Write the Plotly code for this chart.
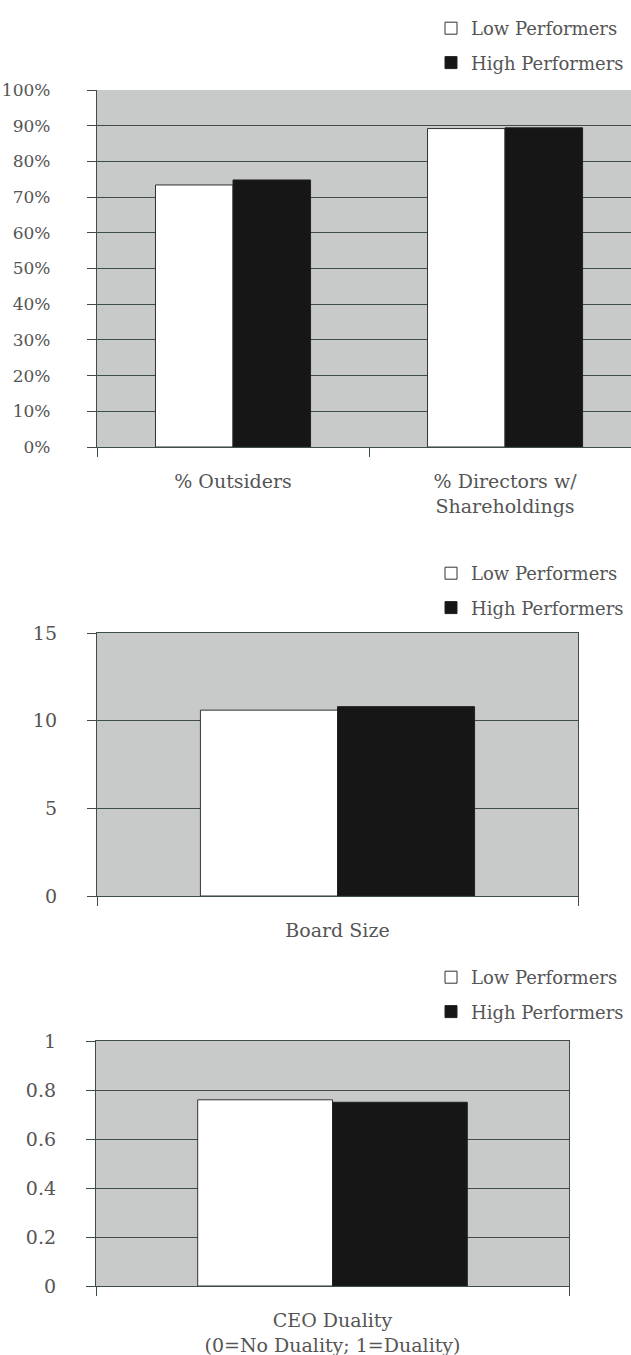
import plotly.graph_objects as go

series_names = ["Low Performers", "High Performers"]

cats1 = ["% Outsiders", "% Directors w/<br>Shareholdings"]
low1 = [73.4, 89.2]
high1 = [74.8, 89.4]
yticks1 = [0, 10, 20, 30, 40, 50, 60, 70, 80, 90, 100]
yticklabels1 = ["0%", "10%", "20%", "30%", "40%", "50%", "60%", "70%", "80%", "90%", "100%"]

cats2 = ["Board Size"]
low2 = [10.6]
high2 = [10.8]
yticks2 = [0, 5, 10, 15]
yticklabels2 = ["0", "5", "10", "15"]

cats3 = ["CEO Duality<br>(0=No Duality; 1=Duality)"]
low3 = [0.76]
high3 = [0.75]
yticks3 = [0, 0.2, 0.4, 0.6, 0.8, 1]
yticklabels3 = ["0", "0.2", "0.4", "0.6", "0.8", "1"]

W, H = 631, 1355
FONT = "DejaVu Serif"
TXT = "#555555"
GRID = "#3f4d47"
BG = "#c8c9c9"
LOWC = "#ffffff"
HIGHC = "#161616"


def px_x(p):
    return p / W


def px_y(p):
    return 1 - p / H


fig = go.Figure()

panels = [
    (cats1, low1, high1, "x", "y", "legend"),
    (cats2, low2, high2, "x2", "y2", "legend2"),
    (cats3, low3, high3, "x3", "y3", "legend3"),
]
for i, (cats, lo, hi, xa, ya, lg) in enumerate(panels):
    fig.add_trace(go.Bar(x=cats, y=lo, name=series_names[0], xaxis=xa, yaxis=ya,
                         marker=dict(color=LOWC, line=dict(color="#333333", width=1)),
                         legend=lg, legendgroup=f"low{i}"))
    fig.add_trace(go.Bar(x=cats, y=hi, name=series_names[1], xaxis=xa, yaxis=ya,
                         marker=dict(color=HIGHC, line=dict(color="#222222", width=1)),
                         legend=lg, legendgroup=f"high{i}"))

xtickfont = dict(family=FONT, size=19, color=TXT)


def yaxis(domain, ticks, labels, rng, standoff=26, mirror=True, anchor="x", size=19):
    return dict(domain=domain, range=rng, tickmode="array", tickvals=ticks, ticktext=labels,
                showgrid=True, gridcolor=GRID, gridwidth=1.3,
                showline=True, linecolor=GRID, linewidth=1.3, mirror=mirror,
                ticks="outside", ticklen=9, tickcolor=GRID, tickwidth=1.3,
                tickfont=dict(family=FONT, size=size, color=TXT),
                ticklabelstandoff=standoff, zeroline=False,
                anchor=anchor, fixedrange=True, automargin=False)


def xaxis(domain, rng, anchor, mirror=True, standoff=17):
    return dict(domain=domain, range=rng, anchor=anchor, type="category",
                showline=True, linecolor=GRID, linewidth=1.3, mirror=mirror,
                ticks="outside", tickson="boundaries", ticklen=9, tickcolor=GRID,
                tickwidth=1.3, tickfont=xtickfont, showgrid=False,
                ticklabelstandoff=standoff, fixedrange=True, automargin=False)


legfont = dict(family=FONT, size=18, color=TXT)


def legend(top_px):
    return dict(x=px_x(431), y=px_y(top_px), xanchor="left", yanchor="top",
                font=legfont, bgcolor="rgba(0,0,0,0)", traceorder="grouped",
                tracegroupgap=8, itemwidth=30)


fig.update_layout(
    width=W, height=H,
    margin=dict(l=0, r=0, t=0, b=0, autoexpand=False),
    paper_bgcolor="white",
    plot_bgcolor=BG,
    barmode="group",
    bargap=0.43,
    bargroupgap=0,
    showlegend=True,
    xaxis=xaxis([px_x(97), 1.0], [-0.5, 1.463], "y", mirror=False),
    yaxis=yaxis([px_y(447), px_y(90)], yticks1, yticklabels1, [0, 100], standoff=33,
                mirror=False, anchor="x", size=17),
    xaxis2=xaxis([px_x(97), px_x(578)], [-0.5, 0.5], "y2"),
    yaxis2=yaxis([px_y(896), px_y(633)], yticks2, yticklabels2, [0, 15], standoff=26, anchor="x2"),
    xaxis3=xaxis([px_x(96), px_x(569)], [-0.5, 0.5], "y3"),
    yaxis3=yaxis([px_y(1286), px_y(1041)], yticks3, yticklabels3, [0, 1], standoff=26, anchor="x3"),
    legend=legend(10),
    legend2=legend(555),
    legend3=legend(959),
)

fig.write_html("out.html")
